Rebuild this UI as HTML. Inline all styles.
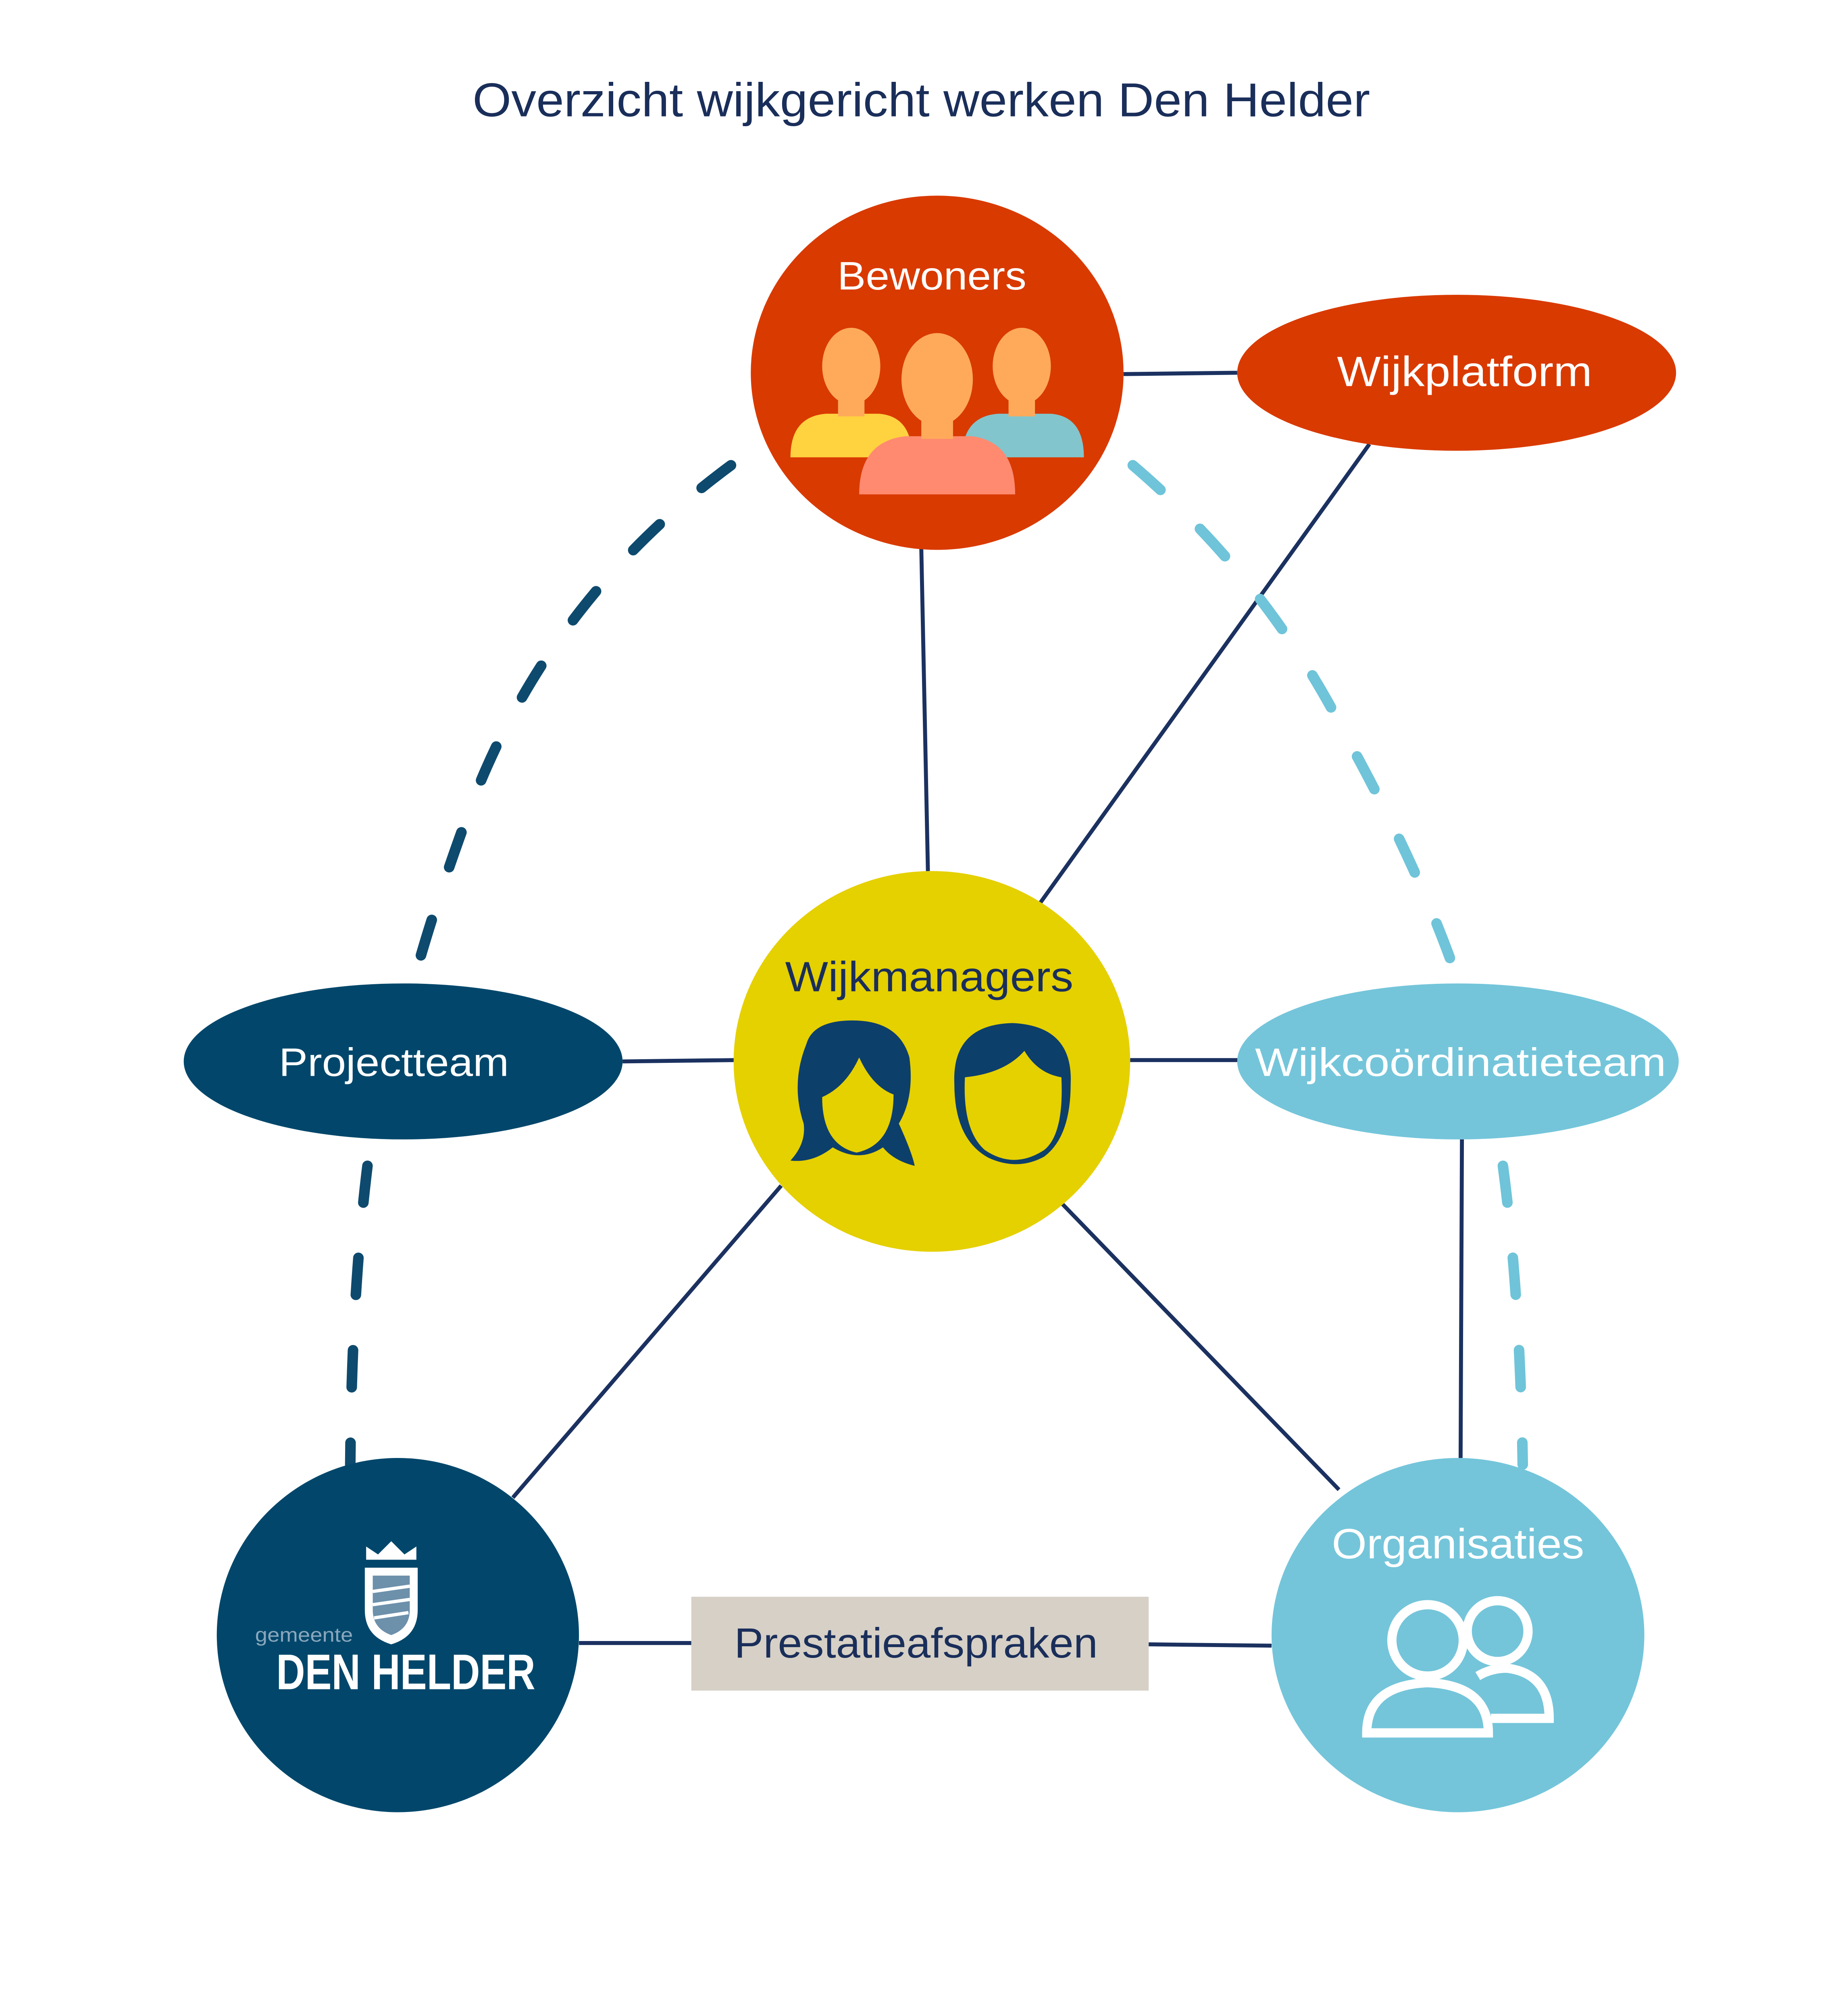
<!DOCTYPE html>
<html><head><meta charset="utf-8"><style>
html,body{margin:0;padding:0;background:#fff;width:4554px;height:5124px;overflow:hidden;}
svg{display:block;}
text{font-family:"Liberation Sans",sans-serif;}
</style></head><body>
<svg width="4554" height="5124" viewBox="0 0 1389 1563" preserveAspectRatio="none" xmlns="http://www.w3.org/2000/svg">
<rect width="1389" height="1563" fill="#fff"/>
<text x="697" y="88" text-anchor="middle" font-size="36" fill="#1a2e5a" textLength="679" lengthAdjust="spacingAndGlyphs">Overzicht wijkgericht werken Den Helder</text>

<g stroke="#1b3160" stroke-width="3" fill="none">
<line x1="850" y1="283" x2="936" y2="282"/>
<line x1="697" y1="415" x2="702" y2="659"/>
<line x1="1036" y1="336" x2="787" y2="683"/>
<line x1="471" y1="803" x2="556" y2="802"/>
<line x1="855" y1="802" x2="937" y2="802"/>
<line x1="591" y1="897" x2="388" y2="1133"/>
<line x1="800" y1="907" x2="1013" y2="1127"/>
<line x1="1106" y1="862" x2="1105" y2="1103"/>
<line x1="438" y1="1243" x2="523" y2="1243"/>
<line x1="869" y1="1244" x2="962" y2="1245"/>
</g>
<g fill="none" stroke-width="8" stroke-linecap="round" stroke-dasharray="28 42">
<path d="M553 352 Q420 450 360 600 Q330 680 313 742" stroke="#0e4a6e"/>
<path d="M857 352 Q960 440 1020 560 Q1075 660 1103 742" stroke="#6fc4d9"/>
<path d="M278 882 Q266 980 265 1108" stroke="#0e4a6e"/>
<path d="M1137 882 Q1150 980 1152 1108" stroke="#6fc4d9"/>
</g>

<ellipse cx="709" cy="282" rx="141" ry="134" fill="#d93a00"/>
<text x="705" y="219" text-anchor="middle" font-size="30" fill="#fff" textLength="143" lengthAdjust="spacingAndGlyphs">Bewoners</text>
<path d="M598 346 Q598 315 625 313 L665 313 Q690 315 690 346 Z" fill="#ffd23f"/>
<ellipse cx="644" cy="277" rx="22" ry="29" fill="#ffaa5a"/>
<rect x="634" y="295" width="20" height="20" fill="#ffaa5a"/>
<path d="M728 346 Q728 315 755 313 L795 313 Q820 315 820 346 Z" fill="#82c5cc"/>
<ellipse cx="773" cy="277" rx="22" ry="29" fill="#ffaa5a"/>
<rect x="763" y="295" width="20" height="20" fill="#ffaa5a"/>
<path d="M650 374 Q650 334 685 330 L735 330 Q768 334 768 374 Z" fill="#ff8a70"/>
<ellipse cx="709" cy="287" rx="27" ry="35" fill="#ffaa5a"/>
<rect x="697" y="310" width="24" height="22" fill="#ffaa5a"/>

<ellipse cx="1102" cy="282" rx="166" ry="59" fill="#d93a00"/>
<text x="1108" y="292" text-anchor="middle" font-size="32" fill="#fff" textLength="193" lengthAdjust="spacingAndGlyphs">Wijkplatform</text>

<ellipse cx="705" cy="803" rx="150" ry="144" fill="#e5d000"/>
<text x="703" y="750" text-anchor="middle" font-size="32" fill="#1a2e5a" textLength="218" lengthAdjust="spacingAndGlyphs">Wijkmanagers</text>
<path d="M610 790 Q615 772 645 772 Q680 772 688 800 Q692 830 680 850 Q690 872 692 882 Q676 878 668 868 Q650 880 630 868 Q615 880 598 878 Q610 865 608 850 Q598 820 610 790 Z" fill="#0d3f6b"/>
<path d="M622 830 Q640 822 650 800 Q660 822 676 828 Q676 866 648 872 Q622 866 622 830 Z" fill="#e5d000"/>
<path d="M722 820 Q720 775 766 774 Q812 776 810 820 Q810 860 790 875 Q770 886 748 876 Q722 862 722 820 Z" fill="#0d3f6b"/>
<path d="M730 815 Q760 812 775 795 Q785 812 803 815 Q805 858 790 870 Q767 885 745 870 Q728 855 730 815 Z" fill="#e5d000"/>

<ellipse cx="305" cy="803" rx="166" ry="59" fill="#02476b"/>
<text x="298" y="814" text-anchor="middle" font-size="30" fill="#fff" textLength="174" lengthAdjust="spacingAndGlyphs">Projectteam</text>

<ellipse cx="1103" cy="803" rx="167" ry="59" fill="#74c5da"/>
<text x="1105" y="814" text-anchor="middle" font-size="30" fill="#fff" textLength="311" lengthAdjust="spacingAndGlyphs">Wijkcoördinatieteam</text>

<ellipse cx="301" cy="1237" rx="137" ry="134" fill="#02476b"/>
<path d="M277 1180 L277 1170 L286 1176 L296 1166 L306 1176 L315 1170 L315 1180 Z" fill="#fff"/>
<path d="M276 1186 L316 1186 L316 1218 Q316 1238 296 1244 Q276 1238 276 1218 Z" fill="#fff"/>
<path d="M282 1192 L310 1192 L310 1218 Q310 1232 296 1237 Q282 1232 282 1218 Z" fill="#6d90ab"/>
<g stroke="#fff" stroke-width="2.5"><line x1="282" y1="1204" x2="310" y2="1200"/><line x1="282" y1="1214" x2="310" y2="1210"/><line x1="283" y1="1224" x2="309" y2="1220"/></g>
<text x="230" y="1242" text-anchor="middle" font-size="15" fill="#8aa7bd" textLength="74" lengthAdjust="spacingAndGlyphs">gemeente</text>
<text x="307" y="1278" text-anchor="middle" font-size="38" font-weight="bold" fill="#fff" textLength="196" lengthAdjust="spacingAndGlyphs">DEN HELDER</text>

<ellipse cx="1103" cy="1237" rx="141" ry="134" fill="#74c5da"/>
<text x="1103" y="1179" text-anchor="middle" font-size="32" fill="#fff" textLength="191" lengthAdjust="spacingAndGlyphs">Organisaties</text>
<g fill="none" stroke="#fff" stroke-width="7">
<circle cx="1133" cy="1234" r="23"/>
<path d="M1118 1268 Q1128 1262 1140 1262 Q1172 1266 1172 1300 L1128 1300"/>
<circle cx="1080" cy="1241" r="27" fill="#74c5da"/>
<path d="M1034 1311 Q1034 1275 1080 1273 Q1126 1275 1126 1311 Z" fill="#74c5da"/>
</g>

<rect x="523" y="1208" width="346" height="71" fill="#d6d0c6"/>
<text x="693" y="1254" text-anchor="middle" font-size="32" fill="#1a2e5a" textLength="275" lengthAdjust="spacingAndGlyphs">Prestatieafspraken</text>
</svg>
</body></html>
